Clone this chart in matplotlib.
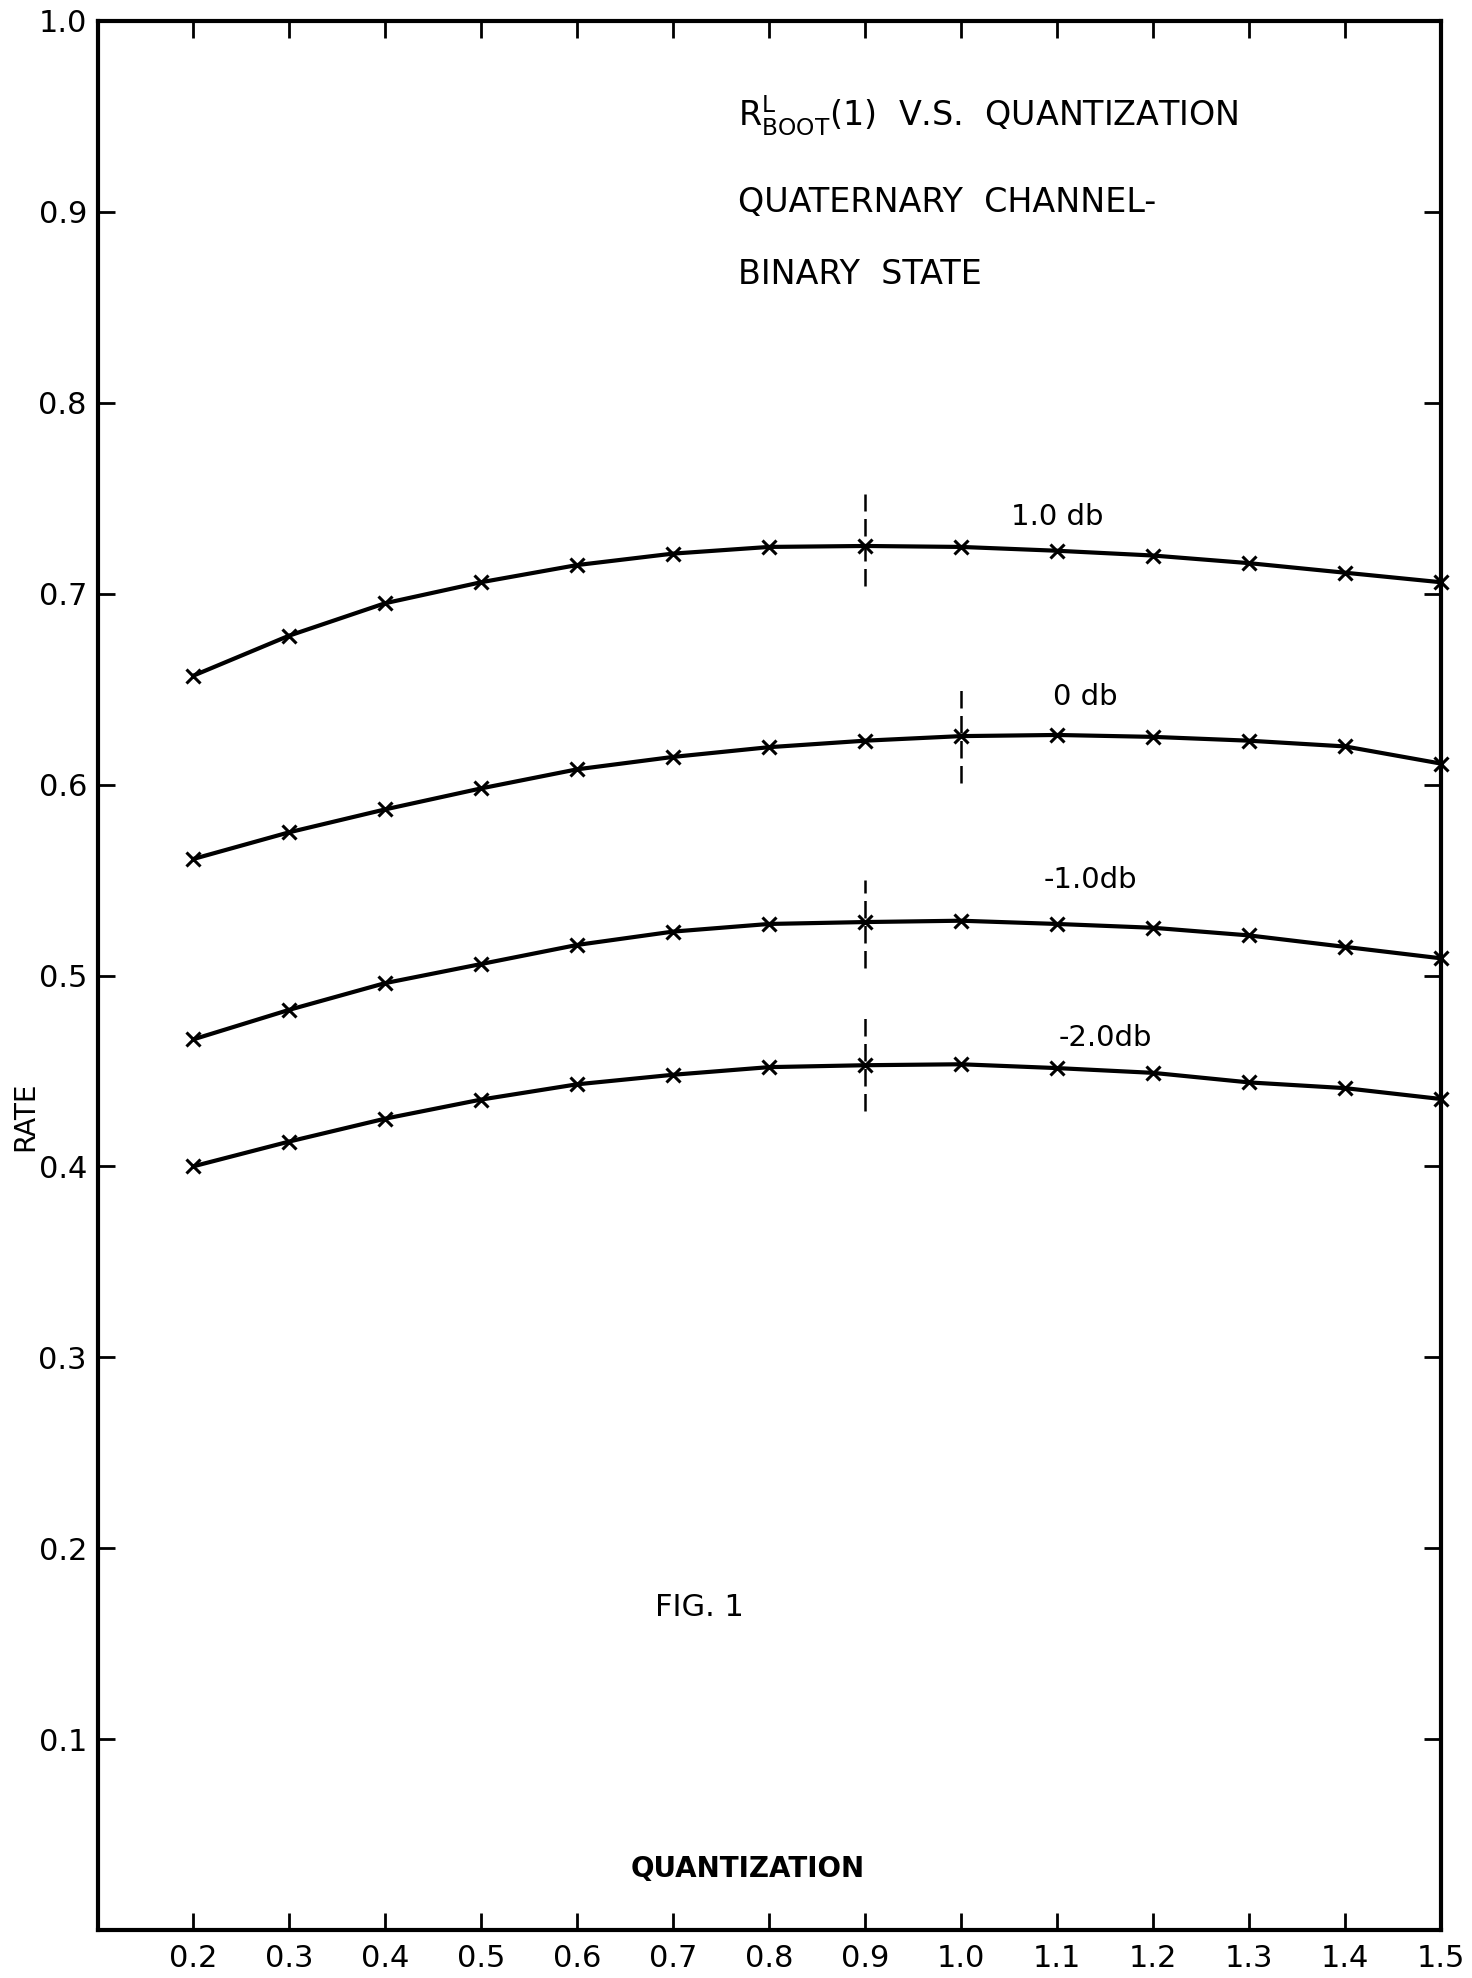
import numpy as np
import matplotlib
matplotlib.use("Agg")
import matplotlib.pyplot as plt

# quantization values (x) and rate curves
quant = [0.2, 0.3, 0.4, 0.5, 0.6, 0.7, 0.8, 0.9, 1.0, 1.1, 1.2, 1.3, 1.4, 1.5]

rate_p10 = [0.657, 0.678, 0.695, 0.706, 0.715, 0.721, 0.7245, 0.725, 0.7245,
            0.7225, 0.720, 0.716, 0.711, 0.706]
rate_0 = [0.561, 0.575, 0.587, 0.598, 0.608, 0.6145, 0.6196, 0.623, 0.6254,
          0.626, 0.625, 0.623, 0.620, 0.611]
rate_m10 = [0.4665, 0.482, 0.496, 0.506, 0.516, 0.523, 0.527, 0.528, 0.5287,
            0.527, 0.525, 0.521, 0.515, 0.509]
rate_m20 = [0.400, 0.413, 0.425, 0.435, 0.443, 0.448, 0.452, 0.453, 0.4535,
            0.4515, 0.449, 0.444, 0.441, 0.4353]

curve_labels = ["1.0 db", "0 db", "-1.0db", "-2.0db"]
label_x = [1.10, 1.13, 1.135, 1.15]
label_y = [0.740, 0.646, 0.550, 0.467]

# dashed markers at the maxima: x position, lower and upper end
peak_x = [0.9, 1.0, 0.9, 0.9]
peak_lo = [0.704, 0.601, 0.504, 0.429]
peak_hi = [0.752, 0.653, 0.550, 0.478]

xticks = [0.2, 0.3, 0.4, 0.5, 0.6, 0.7, 0.8, 0.9, 1.0, 1.1, 1.2, 1.3, 1.4, 1.5]
xticklabels = ["0.2", "0.3", "0.4", "0.5", "0.6", "0.7", "0.8", "0.9",
               "1.0", "1.1", "1.2", "1.3", "1.4", "1.5"]
yticks = [0.1, 0.2, 0.3, 0.4, 0.5, 0.6, 0.7, 0.8, 0.9, 1.0]
yticklabels = ["0.1", "0.2", "0.3", "0.4", "0.5", "0.6", "0.7", "0.8", "0.9", "1.0"]

plt.rcParams['font.family'] = ['DejaVu Sans']

W, H = 1472, 1978
L, R, T, B = 98, 1441, 21, 1930
fig = plt.figure(figsize=(W / 100, H / 100), dpi=100)
ax = fig.add_axes([L / W, 1 - B / H, (R - L) / W, (B - T) / H])

for ys in [rate_p10, rate_0, rate_m10, rate_m20]:
    ax.plot(quant, ys, color="black", lw=3.0, marker="x", ms=10, mew=2.2,
            solid_capstyle="round", clip_on=False)

for px, lo, hi in zip(peak_x, peak_lo, peak_hi):
    ax.plot([px, px], [lo, hi], color="black", lw=1.8, ls=(0, (7, 3)))

for txt, tx, ty in zip(curve_labels, label_x, label_y):
    ax.text(tx, ty, txt, ha="center", va="center", fontsize=21)

ax.set_xlim(0.101, 1.5)
ax.set_ylim(0.0, 1.0)
ax.set_xticks(xticks)
ax.set_xticklabels(xticklabels)
ax.set_yticks(yticks)
ax.set_yticklabels(yticklabels)
ax.tick_params(axis="both", direction="in", length=12, width=2.0,
               labelsize=22, top=True, right=True)
ax.tick_params(axis="x", pad=10)
ax.tick_params(axis="y", pad=8)
for s in ax.spines.values():
    s.set_linewidth(3.0)


def ax_xy(px, py):
    # figure pixel -> axes fraction
    return (px - L) / (R - L), 1 - (py - T) / (B - T)


# title block
for py, txt in [(116, r"$\mathregular{R^{L}_{BOOT}(1)}$  V.S.  QUANTIZATION"),
                (202, "QUATERNARY  CHANNEL-"),
                (274, "BINARY  STATE")]:
    ax.text(*ax_xy(738, py), txt, transform=ax.transAxes, ha="left",
            va="center", fontsize=24)

ax.text(*ax_xy(699, 1608), "FIG. 1", transform=ax.transAxes, ha="center",
        va="center", fontsize=22)
ax.text(*ax_xy(748, 1869), "QUANTIZATION", transform=ax.transAxes,
        ha="center", va="center", fontsize=20, fontweight="bold")

fig.text(25 / W, 1 - 1116 / H, "RATE", rotation=90, ha="center", va="center",
         fontsize=20)

fig.savefig("out.png", dpi=100)
